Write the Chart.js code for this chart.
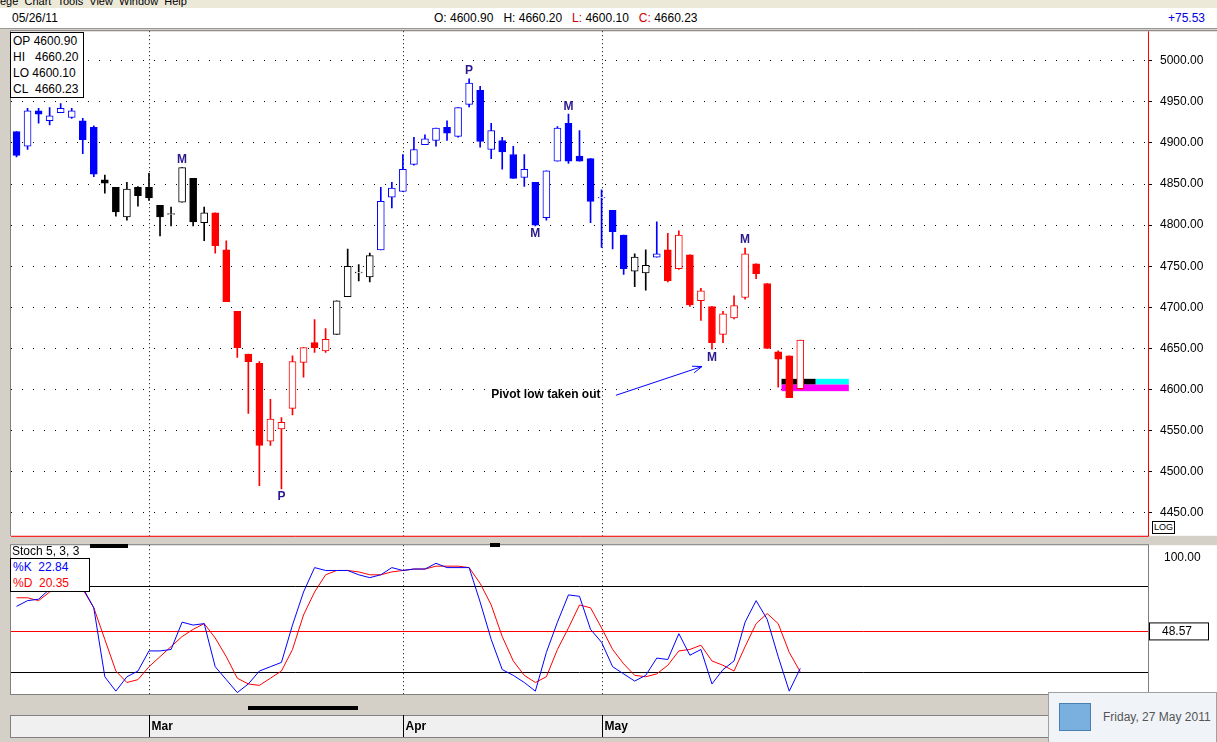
<!DOCTYPE html>
<html><head><meta charset="utf-8">
<script src="https://cdn.jsdelivr.net/npm/chart.js@4.4.1/dist/chart.umd.min.js"></script>
<style>
body{margin:0;width:1217px;height:742px;background:#d4d0c8;font-family:"Liberation Sans",Arial,sans-serif;position:relative;overflow:hidden}
.abs{position:absolute}
#menu{left:0;top:0;width:1217px;height:8px;background:#ece9d8;font-size:11px;line-height:2px;overflow:hidden}
#hdr{left:0;top:8px;width:1217px;height:20px;background:#fff;border-bottom:1px solid #999;font-size:12px}
#hdr span{position:absolute;top:3px}
#pc{left:0;top:16px}
#sc{left:0;top:530px}
.box{background:#fff;border:1px solid #000;font-size:12px;line-height:16px;padding:0 2px}
#pop{left:1048px;top:692px;width:167px;height:50px;background:#f0f4f8;border:1px solid #a0a0a0;font-size:12px;color:#555}
</style></head><body>
<div id="menu" class="abs">ege&nbsp;&nbsp;Chart&nbsp;&nbsp;Tools&nbsp;&nbsp;View&nbsp;&nbsp;Window&nbsp;&nbsp;Help</div>
<div id="hdr" class="abs">
 <span style="left:12px">05/26/11</span>
 <span style="left:434px">O: 4600.90&nbsp;&nbsp;&nbsp;H: 4660.20&nbsp;&nbsp;&nbsp;<b style="color:#c00;font-weight:normal">L:</b> 4600.10&nbsp;&nbsp;&nbsp;<b style="color:#c00;font-weight:normal">C:</b> 4660.23</span>
 <span style="left:1168px;color:#0000e0">+75.53</span>
</div>
<canvas id="pc" class="abs" width="1217" height="535"></canvas>
<canvas id="sc" class="abs" width="1217" height="210"></canvas>
<div class="abs box" style="left:10px;top:32px;width:68px">OP&nbsp;4600.90<br>HI&nbsp;&nbsp;&nbsp;4660.20<br>LO&nbsp;4600.10<br>CL&nbsp;&nbsp;4660.23</div>
<div class="abs" style="left:12px;top:544px;font-size:12px">Stoch 5, 3, 3</div>
<div class="abs box" style="left:10px;top:558px;width:74px"><span style="color:#00f">%K&nbsp;&nbsp;22.84</span><br><span style="color:#f00">%D&nbsp;&nbsp;20.35</span></div>
<div class="abs" style="left:90px;top:544px;width:38px;height:4px;background:#000"></div>
<div class="abs" style="left:490px;top:543px;width:10px;height:4px;background:#000"></div>
<div class="abs" style="left:248px;top:706px;width:110px;height:4px;background:#000"></div>
<div class="abs box" style="left:1152px;top:521px;font-size:9px;line-height:11px;padding:0 1px">LOG</div>
<div id="pop" class="abs">
 <div class="abs" style="left:10px;top:10px;width:30px;height:26px;background:#7ab0e0;border:1px solid #4a80b0"></div>
 <div class="abs" style="left:54px;top:17px">Friday, 27 May 2011</div>
</div>
<script>
// price candles
const opens  = [4914,4896,4939,4927,4937,4931,4927,4919,4855,4846,4810,4846,4846,4824,4813,4828,4857,4803,4815,4770,4695,4643,4632,4537,4552,4577,4633,4657,4647,4667,4713,4742,4737,4770,4834,4841,4874,4898,4903,4919,4908,4947,4964,4892,4903,4886,4858,4852,4809,4878,4924,4884,4881,4833,4818,4788,4744,4742,4761,4770,4747,4764,4708,4701,4667,4687,4712,4753,4729,4646,4641,4600.90];
const highs  = [4914,4942,4942,4943,4948,4942,4930,4921,4861,4846,4852,4847,4863,4824,4822,4870,4857,4822,4815,4781,4695,4643,4634,4588,4566,4641,4651,4685,4674,4708,4771,4752,4766,4846,4852,4886,4907,4910,4918,4927,4943,4978,4969,4924,4907,4896,4886,4852,4866,4920,4935,4915,4881,4843,4818,4788,4765,4770,4804,4790,4793,4764,4723,4701,4695,4714,4772,4753,4729,4647,4641,4660.20];
const lows   = [4883,4892,4924,4922,4937,4930,4887,4859,4839,4811,4806,4823,4830,4787,4799,4828,4799,4781,4766,4707,4639,4571,4483,4532,4479,4569,4615,4645,4645,4667,4713,4732,4731,4770,4821,4841,4873,4898,4896,4903,4907,4944,4895,4881,4868,4857,4847,4799,4806,4878,4875,4878,4803,4773,4771,4740,4725,4721,4761,4731,4746,4701,4684,4649,4657,4686,4710,4735,4650,4603,4590,4600.10];
const closes = [4885,4939,4935,4933,4942,4939,4904,4862,4851,4816,4844,4836,4833,4810,4814,4870,4804,4815,4775,4707,4651,4634,4532,4564,4560,4634,4651,4651,4661,4708,4750,4743,4763,4829,4845,4868,4892,4905,4918,4912,4943,4973,4902,4915,4889,4857,4868,4800,4866,4918,4878,4878,4829,4834,4792,4747,4761,4751,4765,4732,4788,4703,4720,4657,4692,4702,4765,4741,4650,4637,4590,4660.23];
const candleTone = "bbbbbbbbkkkkkkkkkkrrrrrrrrrrrkkkkbbbbbbbbbbbbbbbbbbbbbbbkkbrrrrrrrrrrrrr";
// stochastic 5,3,3
const stochK = [66,70,71,78,82,85,79,65,17,7,17,21,35,35,36,55,53,54,24,15,6,12,21,24,27,53,76,93,91,91,91,88,86,88,93,91,92,92,96,93,93,93,69,43,22,18,13,7,34,55,74,73,50,41,24,19,14,18,30,29,47,32,36,12,22,28,55,70,57,31,7,22.84];
const stochD = [72,72,70,76,80,80,78,65,43,21,13,15,24,31,38,45,50,54,44,31,16,12,11,16,21,36,60,76,88,91,91,90,88,88,90,91,92,92,94,94,94,93,82,67,45,28,18,13,17,36,51,67,65,51,36,26,18,17,19,25,35,36,39,28,25,21,38,54,61,54,34,20.35];
const monthTicks = [{i:12,t:'Mar'},{i:35,t:'Apr'},{i:53,t:'May'}];
const priceTicks = [4450,4500,4550,4600,4650,4700,4750,4800,4850,4900,4950,5000];
const stochLevels = [80,20];
const stochMid = 48.57;
const pivotMarks = [{i:15,t:'M',up:true},{i:41,t:'P',up:true},{i:50,t:'M',up:true},{i:66,t:'M',up:true},{i:24,t:'P',up:false},{i:47,t:'M',up:false},{i:63,t:'M',up:false}];
const SLOTS = 103;
const labels = Array.from({length:SLOTS},(_,i)=>String(i));
const toneColor = {b:'#0000ff',k:'#000000',r:'#ff0000'};
const colors = opens.map((_,i)=>toneColor[candleTone[i]]);
const hollow = opens.map((o,i)=>closes[i]>o);
const font = '"Liberation Sans", Arial, sans-serif';

function rightAxisFit(s){ s.width = 67; }

const whiteArea = {
  id:'whiteArea',
  beforeDraw(c){const a=c.chartArea;c.ctx.save();c.ctx.fillStyle='#fff';c.ctx.fillRect(a.left,a.top,c.width-a.left,a.bottom-a.top);c.ctx.restore();}
};

const pricePlugin = {
  id:'pricePlugin',
  beforeDatasetsDraw(c){
    const ctx=c.ctx, x=c.scales.x, y=c.scales.y;
    const px=v=>x.getPixelForValue(v);
    ctx.save();
    ctx.strokeStyle='#000';ctx.setLineDash([1,3]);ctx.lineWidth=1;
    monthTicks.forEach(m=>{const xx=Math.round(px(m.i))+0.5;ctx.beginPath();ctx.moveTo(xx,c.chartArea.top);ctx.lineTo(xx,c.chartArea.bottom);ctx.stroke();});
    ctx.restore();
    const a=px(69.3),b=px(72.4),e=px(75.4);
    const t=y.getPixelForValue(4613),m=y.getPixelForValue(4606),bt=y.getPixelForValue(4598);
    ctx.fillStyle='#000';ctx.fillRect(a,t,b-a,m-t);
    ctx.fillStyle='#00ffff';ctx.fillRect(b,t,e-b,m-t);
    ctx.fillStyle='#ff00ff';ctx.fillRect(a,m,e-a,bt-m);
  },
  afterDraw(c){
    const ctx=c.ctx, x=c.scales.x, y=c.scales.y, ca=c.chartArea;
    ctx.save();
    ctx.font='bold 12px '+font;ctx.fillStyle='#2a1a8c';ctx.textAlign='center';
    pivotMarks.forEach(m=>{
      const xx=x.getPixelForValue(m.i);
      if(m.up){ctx.textBaseline='bottom';ctx.fillText(m.t,xx,y.getPixelForValue(highs[m.i])-2);}
      else{ctx.textBaseline='top';ctx.fillText(m.t,xx,y.getPixelForValue(lows[m.i])+2);}
    });
    ctx.fillStyle='#000';ctx.textAlign='left';ctx.textBaseline='middle';
    ctx.fillText('Pivot low taken out',x.getPixelForValue(43),y.getPixelForValue(4594));
    const x0=x.getPixelForValue(54.3),y0=y.getPixelForValue(4593),x1=x.getPixelForValue(62.1),y1=y.getPixelForValue(4628);
    ctx.strokeStyle='#0000ff';ctx.lineWidth=1;ctx.beginPath();ctx.moveTo(x0,y0);ctx.lineTo(x1,y1);ctx.stroke();
    const ang=Math.atan2(y1-y0,x1-x0);
    ctx.beginPath();ctx.moveTo(x1-10*Math.cos(ang-0.35),y1-10*Math.sin(ang-0.35));ctx.lineTo(x1,y1);ctx.lineTo(x1-10*Math.cos(ang+0.35),y1-10*Math.sin(ang+0.35));ctx.stroke();
    ctx.strokeStyle='#ff0000';ctx.beginPath();ctx.moveTo(ca.left,ca.bottom+0.5);ctx.lineTo(ca.right+0.5,ca.bottom+0.5);ctx.lineTo(ca.right+0.5,ca.top);ctx.stroke();
    ctx.strokeStyle='#808080';ctx.beginPath();ctx.moveTo(ca.left-0.5,ca.bottom);ctx.lineTo(ca.left-0.5,ca.top-0.5);ctx.lineTo(c.width,ca.top-0.5);ctx.stroke();
    ctx.restore();
  }
};

new Chart(document.getElementById('pc'),{
  type:'bar',
  data:{labels,datasets:[
    {data:lows.map((l,i)=>[l,highs[i]]),backgroundColor:colors,barThickness:1,grouped:false,order:2},
    {data:opens.map((o,i)=>[o,closes[i]]),backgroundColor:opens.map((_,i)=>hollow[i]?'#ffffff':colors[i]),borderColor:colors,borderWidth:1,borderSkipped:false,barThickness:7,grouped:false,order:1}
  ]},
  options:{responsive:false,animation:false,
    layout:{padding:{left:11,right:2,top:1,bottom:3}},
    plugins:{legend:{display:false},tooltip:{enabled:false}},
    scales:{
      x:{display:false,offset:true},
      y:{position:'right',min:4422,max:5036,afterFit:rightAxisFit,
        afterBuildTicks:s=>{s.ticks=priceTicks.map(v=>({value:v}));},
        ticks:{color:'#000',font:{family:font,size:12},padding:8,callback:v=>v.toFixed(2)},
        grid:{color:'#000',lineWidth:1,tickLength:4,drawTicks:true},border:{display:false,dash:[1,10]}}
    }
  },
  plugins:[whiteArea,pricePlugin]
});

const stochPlugin = {
  id:'stochPlugin',
  beforeDatasetsDraw(c){
    const ctx=c.ctx,y=c.scales.y,ca=c.chartArea,x=c.scales.x;
    ctx.save();
    ctx.strokeStyle='#000';ctx.lineWidth=1;
    stochLevels.forEach(v=>{const yy=Math.round(y.getPixelForValue(v))+0.5;ctx.beginPath();ctx.moveTo(ca.left,yy);ctx.lineTo(ca.right,yy);ctx.stroke();});
    ctx.strokeStyle='#ff0000';const ym=Math.round(y.getPixelForValue(stochMid))+0.5;
    ctx.beginPath();ctx.moveTo(ca.left,ym);ctx.lineTo(ca.right,ym);ctx.stroke();
    ctx.strokeStyle='#000';ctx.setLineDash([1,3]);
    monthTicks.forEach(m=>{const xx=Math.round(x.getPixelForValue(m.i))+0.5;ctx.beginPath();ctx.moveTo(xx,ca.top);ctx.lineTo(xx,ca.bottom);ctx.stroke();});
    ctx.restore();
  },
  afterDraw(c){
    const ctx=c.ctx,y=c.scales.y,ca=c.chartArea,x=c.scales.x;
    ctx.save();
    const ym=y.getPixelForValue(stochMid);
    ctx.fillStyle='#fff';ctx.strokeStyle='#000';
    ctx.fillRect(ca.right+1,ym-9,60,18);ctx.strokeRect(ca.right+1.5,ym-8.5,59,17);
    ctx.fillStyle='#000';ctx.font='12px '+font;ctx.textBaseline='middle';ctx.fillText(stochMid.toFixed(2),ca.right+14,ym);
    ctx.strokeStyle='#808080';ctx.strokeRect(ca.left-0.5,ca.top-0.5,ca.right-ca.left+1,ca.bottom-ca.top+1);
    const top=ca.bottom+21;
    ctx.fillStyle='#f0f0f0';ctx.fillRect(ca.left,top,c.width-ca.left,22);
    ctx.strokeStyle='#808080';ctx.strokeRect(ca.left-0.5,top+0.5,c.width-ca.left,22);
    ctx.fillStyle='#000';ctx.font='bold 12px '+font;
    monthTicks.forEach(m=>{const xx=Math.round(x.getPixelForValue(m.i))+0.5;
      ctx.beginPath();ctx.moveTo(xx,top);ctx.lineTo(xx,top+22);ctx.strokeStyle='#000';ctx.stroke();
      ctx.fillText(m.t,xx+2,top+12);});
    ctx.restore();
  }
};

new Chart(document.getElementById('sc'),{
  type:'line',
  data:{labels,datasets:[
    {data:stochK,borderColor:'#0000ff',borderWidth:1,pointRadius:0,tension:0},
    {data:stochD,borderColor:'#ff0000',borderWidth:1,pointRadius:0,tension:0}
  ]},
  options:{responsive:false,animation:false,
    layout:{padding:{left:11,right:2,top:3,bottom:46}},
    plugins:{legend:{display:false},tooltip:{enabled:false}},
    scales:{
      x:{display:false,offset:true},
      y:{position:'right',min:5,max:108.6,afterFit:rightAxisFit,
        afterBuildTicks:s=>{s.ticks=[{value:100}];},
        ticks:{color:'#000',font:{family:font,size:12},padding:8,callback:v=>v.toFixed(2)},
        grid:{display:false},border:{display:false}}
    }
  },
  plugins:[whiteArea,stochPlugin]
});
</script>
</body></html>
